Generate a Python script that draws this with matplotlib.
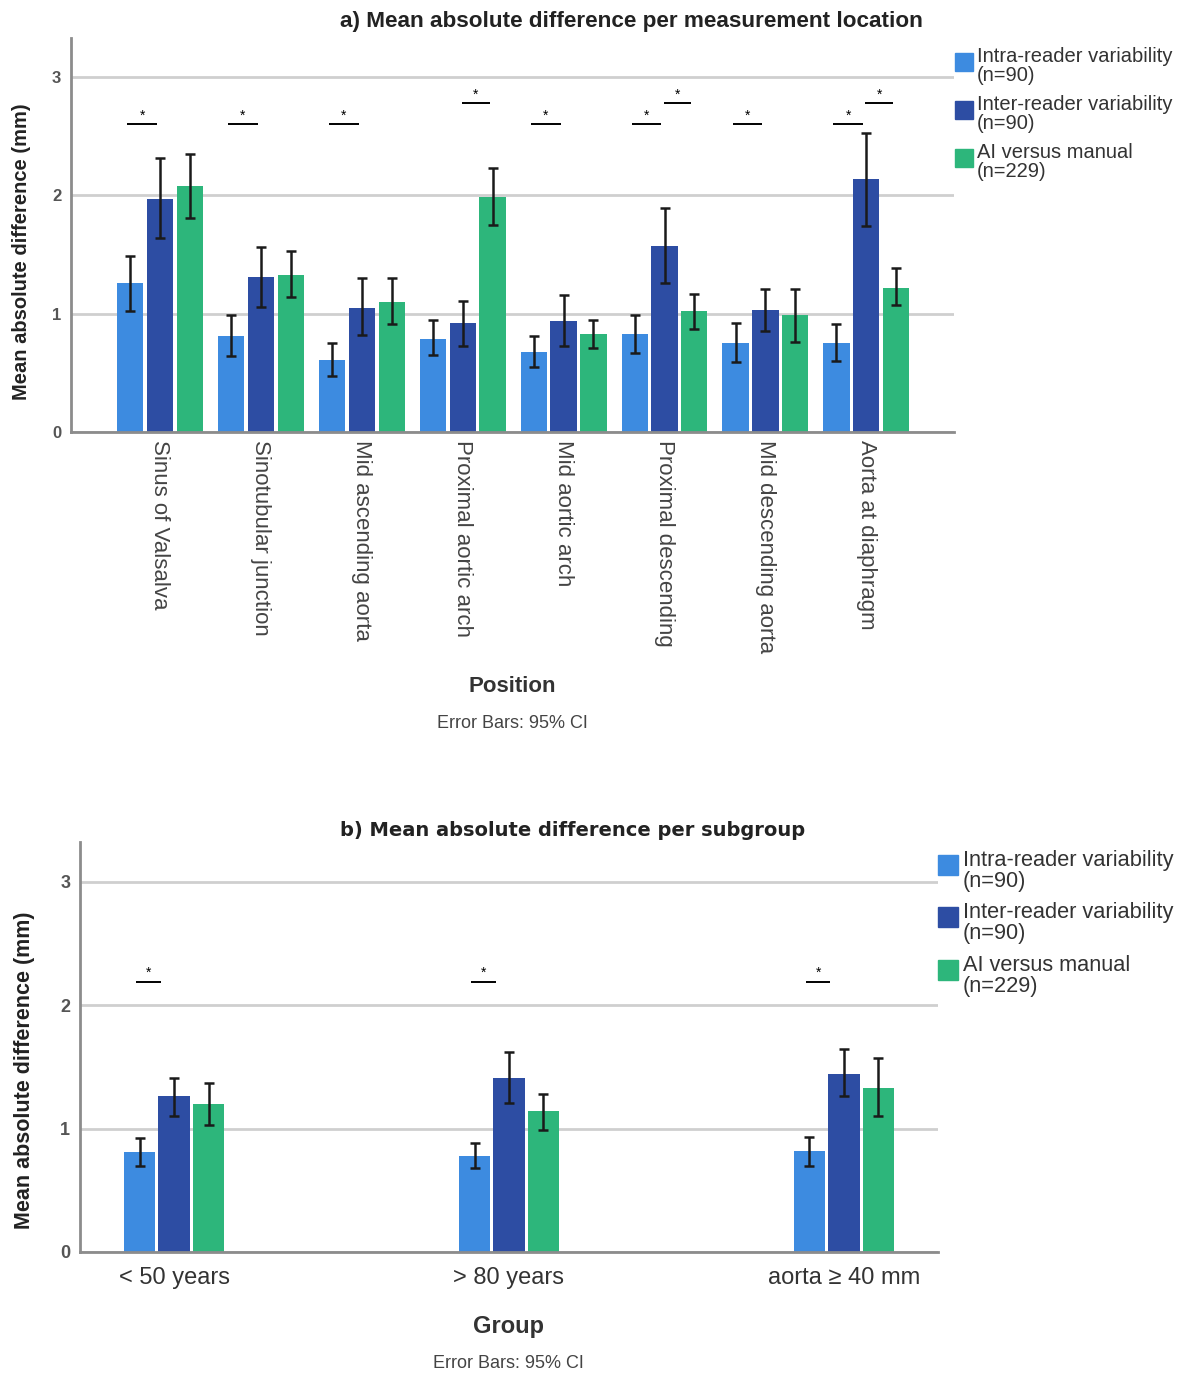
import matplotlib
matplotlib.use("Agg")
import matplotlib.pyplot as plt
import numpy as np
from matplotlib.patches import Rectangle
from matplotlib import font_manager as fm

# ---------------- data ----------------
series_labels = ["Intra-reader variability\n(n=90)",
                 "Inter-reader variability\n(n=90)",
                 "AI versus manual\n(n=229)"]

positions = ["Sinus of Valsalva", "Sinotubular junction", "Mid ascending aorta",
             "Proximal aortic arch", "Mid aortic arch", "Proximal descending",
             "Mid descending aorta", "Aorta at diaphragm"]
intra_a = [1.26, 0.81, 0.61, 0.79, 0.68, 0.83, 0.75, 0.75]
intra_a_lo = [1.02, 0.64, 0.47, 0.65, 0.55, 0.67, 0.59, 0.60]
intra_a_hi = [1.49, 0.99, 0.75, 0.95, 0.81, 0.99, 0.92, 0.91]
inter_a = [1.97, 1.31, 1.05, 0.92, 0.94, 1.57, 1.03, 2.14]
inter_a_lo = [1.64, 1.06, 0.82, 0.73, 0.73, 1.26, 0.85, 1.74]
inter_a_hi = [2.32, 1.56, 1.30, 1.11, 1.16, 1.89, 1.21, 2.53]
ai_a = [2.08, 1.33, 1.10, 1.99, 0.83, 1.02, 0.99, 1.22]
ai_a_lo = [1.81, 1.14, 0.91, 1.75, 0.71, 0.87, 0.76, 1.07]
ai_a_hi = [2.35, 1.53, 1.30, 2.23, 0.95, 1.17, 1.21, 1.39]
sig_a_intra_inter = [0, 1, 2, 4, 5, 6, 7]
sig_a_inter_ai = [3, 5, 7]
sig_a_low, sig_a_high = 2.60, 2.78

groups = ["< 50 years", "> 80 years", "aorta \u2265 40 mm"]
intra_b = [0.81, 0.78, 0.82]
intra_b_lo = [0.70, 0.68, 0.70]
intra_b_hi = [0.92, 0.88, 0.93]
inter_b = [1.26, 1.41, 1.44]
inter_b_lo = [1.10, 1.21, 1.26]
inter_b_hi = [1.41, 1.62, 1.64]
ai_b = [1.20, 1.14, 1.33]
ai_b_lo = [1.03, 0.99, 1.10]
ai_b_hi = [1.37, 1.28, 1.57]
sig_b_intra_inter = [0, 1, 2]
sig_b_level = 2.19

yticks = [0, 1, 2, 3]

# ---------------- style ----------------
colors = ["#3D8BE0", "#2D4DA3", "#2DB67B"]
names = {f.name for f in fm.fontManager.ttflist}
NARROW = "Liberation Sans Narrow" if "Liberation Sans Narrow" in names else "Liberation Sans"
SANS = "Liberation Sans"
plt.rcParams["font.family"] = [SANS, "DejaVu Sans"]

W, H = 1185, 1375
fig = plt.figure(figsize=(W / 100, H / 100), dpi=100)
fig.patch.set_facecolor("white")


def fx(x):
    return x / W


def fy(y):
    return 1 - y / H


def style_axes(ax, ymax, ytick_size):
    ax.set_ylim(0, ymax)
    ax.set_yticks(yticks)
    ax.set_yticklabels([str(t) for t in yticks], fontsize=ytick_size,
                       color="#555555", fontweight="bold")
    for s in ["top", "right"]:
        ax.spines[s].set_visible(False)
    for s in ["left", "bottom"]:
        ax.spines[s].set_color("#8c8c8c")
        ax.spines[s].set_linewidth(2)
    ax.tick_params(axis="both", length=0)
    ax.tick_params(axis="y", pad=7)
    ax.grid(axis="y", color="#cfcfcf", linewidth=2)
    ax.set_axisbelow(True)


def draw_bars(ax, x, width, pitch, vals, los, his, capsize):
    for k in range(3):
        v = np.asarray(vals[k])
        lo = np.asarray(los[k])
        hi = np.asarray(his[k])
        xs = x + (k - 1) * pitch
        ax.bar(xs, v, width=width, color=colors[k], zorder=2)
        yerr = np.vstack([v - lo, hi - v])
        ax.errorbar(xs, v, yerr=yerr, fmt="none", ecolor="#1a1a1a",
                    elinewidth=1.8, capsize=capsize, capthick=1.8, zorder=3)


def sig(ax, x0, x1, y, fs):
    ax.plot([x0, x1], [y, y], color="black", lw=1.4, zorder=3,
            solid_capstyle="butt")
    ax.text((x0 + x1) / 2, y + 0.015, "*", ha="center", va="bottom",
            fontsize=fs, color="black")


def legend(x_sq, sq, tops, x_txt, txt_tops, fs):
    for k in range(3):
        fig.patches.append(Rectangle((fx(x_sq), fy(tops[k] + sq)), sq / W, sq / H,
                                     transform=fig.transFigure,
                                     color=colors[k], zorder=5))
        fig.text(fx(x_txt), fy(txt_tops[k]), series_labels[k], ha="left", va="top",
                 fontsize=fs, family=[NARROW, "DejaVu Sans"], color="#333333",
                 linespacing=1.0)


# ---------------- panel a ----------------
ax1 = fig.add_axes([fx(71), fy(432), (954 - 71) / W, (432 - 38) / H])
xa = np.arange(len(positions))
draw_bars(ax1, xa, 0.26, 0.296,
          [intra_a, inter_a, ai_a],
          [intra_a_lo, inter_a_lo, ai_a_lo],
          [intra_a_hi, inter_a_hi, ai_a_hi], capsize=3.5)
ax1.set_xlim(-0.882, 7.869)
style_axes(ax1, 3.33, 12)
ax1.set_xticks(xa)
ax1.set_xticklabels(positions, rotation=-90, fontsize=16, color="#444444",
                    va="top", ha="center")
ax1.tick_params(axis="x", pad=6)
for i in sig_a_intra_inter:
    sig(ax1, xa[i] - 0.296 - 0.03, xa[i] - 0.03, sig_a_low, 10)
for i in sig_a_inter_ai:
    sig(ax1, xa[i] - 0.01, xa[i] + 0.296 - 0.03, sig_a_high, 10)

fig.text(fx(340), fy(22), "a) Mean absolute difference per measurement location",
         ha="left", va="center", fontsize=16.2, fontweight="bold", color="#222222")
fig.text(fx(22), fy(252), "Mean absolute difference (mm)", rotation=90,
         ha="center", va="center", fontsize=14.5, fontweight="bold",
         family=[NARROW, "DejaVu Sans"], color="#222222")
fig.text(fx(512), fy(686), "Position", ha="center", va="center", fontsize=16,
         fontweight="bold", color="#333333")
fig.text(fx(512), fy(724), "Error Bars: 95% CI", ha="center", va="center",
         fontsize=13, color="#444444")
legend(955, 18, [53, 101, 149], 977, [47, 95, 143], 14.5)

# ---------------- panel b ----------------
ax2 = fig.add_axes([fx(80), fy(1252), (938 - 80) / W, (1252 - 842) / H])
xb = np.arange(len(groups))
draw_bars(ax2, xb, 0.094, 0.103,
          [intra_b, inter_b, ai_b],
          [intra_b_lo, inter_b_lo, ai_b_lo],
          [intra_b_hi, inter_b_hi, ai_b_hi], capsize=3.5)
ax2.set_xlim(-0.281, 2.281)
style_axes(ax2, 3.32, 13)
ax2.set_xticks(xb)
ax2.set_xticklabels(groups, fontsize=17, color="#333333")
ax2.tick_params(axis="x", pad=11)
for i in sig_b_intra_inter:
    sig(ax2, xb[i] - 0.103 - 0.01, xb[i] - 0.04, sig_b_level, 10)

fig.text(fx(340), fy(831), "b) Mean absolute difference per subgroup",
         ha="left", va="center", fontsize=14, fontweight="bold",
         family=["DejaVu Sans"], color="#222222")
fig.text(fx(25), fy(1070), "Mean absolute difference (mm)", rotation=90,
         ha="center", va="center", fontsize=15.5, fontweight="bold",
         family=[NARROW, "DejaVu Sans"], color="#222222")
fig.text(fx(508), fy(1327), "Group", ha="center", va="center", fontsize=17,
         fontweight="bold", color="#333333")
fig.text(fx(508), fy(1363), "Error Bars: 95% CI", ha="center", va="center",
         fontsize=13, color="#444444")
legend(938, 20, [855, 907, 960], 963, [850, 902, 955], 15.7)

fig.savefig("out.png", dpi=100, facecolor="white")
